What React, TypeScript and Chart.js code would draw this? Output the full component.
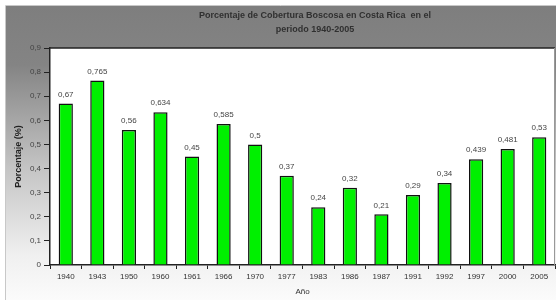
import React, { useEffect, useRef } from "react";
import { Chart, registerables } from "chart.js";

Chart.register(...registerables);

const years = ["1940", "1943", "1950", "1960", "1961", "1966", "1970", "1977", "1983", "1986", "1987", "1991", "1992", "1997", "2000", "2005"];
const coverage = [0.67, 0.765, 0.56, 0.634, 0.45, 0.585, 0.5, 0.37, 0.24, 0.32, 0.21, 0.29, 0.34, 0.439, 0.481, 0.53];
const titleLines = ["Porcentaje de Cobertura Boscosa en Costa Rica  en el", "periodo 1940-2005"];
const yTitle = "Porcentaje (%)";
const xTitle = "Año";

const FONT = "'Liberation Sans', Arial, sans-serif";

const fmt = (v: number) => String(v).replace(".", ",");

const bgPlugin = {
  id: "bgPlugin",
  beforeDraw(chart: any) {
    const { ctx, width, height, chartArea } = chart;
    ctx.save();
    ctx.fillStyle = "#ffffff";
    ctx.fillRect(0, 0, width, height);
    const g = ctx.createLinearGradient(0, 6, 0, height);
    g.addColorStop(0, "#7e7e7e");
    g.addColorStop(0.2, "#848484");
    g.addColorStop(0.55, "#c4c4c4");
    g.addColorStop(0.85, "#f0f0f0");
    g.addColorStop(1, "#fbfbfb");
    ctx.fillStyle = g;
    ctx.fillRect(6, 6, width - 6, height - 6);
    ctx.strokeStyle = "#c8c8c8";
    ctx.lineWidth = 1;
    ctx.beginPath();
    ctx.moveTo(5.5, height);
    ctx.lineTo(5.5, 5.5);
    ctx.lineTo(width, 5.5);
    ctx.stroke();
    ctx.fillStyle = "#ffffff";
    ctx.fillRect(chartArea.left, chartArea.top, chartArea.right - chartArea.left, chartArea.bottom - chartArea.top);
    // title
    ctx.fillStyle = "#303030";
    ctx.font = `bold 9px ${FONT}`;
    ctx.textAlign = "center";
    ctx.textBaseline = "middle";
    ctx.fillText(titleLines[0], 315, 16);
    ctx.fillText(titleLines[1], 315, 30);
    ctx.restore();
  },
  afterDraw(chart: any) {
    const { ctx, chartArea } = chart;
    ctx.save();
    ctx.strokeStyle = "#222";
    ctx.lineWidth = 1.5;
    ctx.beginPath();
    ctx.moveTo(chartArea.left, chartArea.top);
    ctx.lineTo(chartArea.right, chartArea.top);
    ctx.stroke();
    ctx.strokeStyle = "#999";
    ctx.lineWidth = 1;
    ctx.beginPath();
    ctx.moveTo(chartArea.right - 0.5, chartArea.top);
    ctx.lineTo(chartArea.right - 0.5, chartArea.bottom);
    ctx.stroke();
    ctx.restore();
  },
};

const labelPlugin = {
  id: "labelPlugin",
  afterDatasetsDraw(chart: any) {
    const { ctx } = chart;
    const meta = chart.getDatasetMeta(0);
    const data = chart.data.datasets[0].data as number[];
    ctx.save();
    ctx.fillStyle = "#444";
    ctx.font = `8px ${FONT}`;
    ctx.textAlign = "center";
    ctx.textBaseline = "bottom";
    meta.data.forEach((el: any, i: number) => {
      ctx.fillText(fmt(data[i]), el.x, el.y - 5);
    });
    ctx.restore();
  },
};

export default function App() {
  const ref = useRef<HTMLCanvasElement>(null);
  useEffect(() => {
    const chart = new Chart(ref.current!, {
      type: "bar",
      data: {
        labels: years,
        datasets: [
          {
            data: coverage,
            backgroundColor: "#00f000",
            borderColor: "#111",
            borderWidth: 1.5,
            barPercentage: 0.45,
            categoryPercentage: 1,
          },
        ],
      },
      options: {
        animation: false,
        responsive: false,
        maintainAspectRatio: false,
        layout: { padding: { left: 6, top: 48, right: 1, bottom: 0 } },
        plugins: { legend: { display: false }, tooltip: { enabled: false }, title: { display: false } },
        scales: {
          x: {
            afterFit: (s: any) => { s.height = 35; },
            grid: { offset: true, drawOnChartArea: false, tickLength: 4, color: "#222" },
            border: { color: "#222", width: 1.5 },
            ticks: { color: "#333", font: { family: FONT, size: 8 }, padding: 3, maxRotation: 0, autoSkip: false },
            title: { display: true, text: xTitle, color: "#333", font: { family: FONT, size: 8 }, padding: { top: 0, bottom: 3 } },
          },
          y: {
            min: 0,
            max: 0.9,
            afterFit: (s: any) => { s.width = 44; },
            grid: { drawOnChartArea: false, tickLength: 6, color: "#222" },
            border: { color: "#222", width: 1.5 },
            ticks: { stepSize: 0.1, color: "#444", font: { family: FONT, size: 8 }, padding: 3, callback: (v: any) => fmt(Math.round(Number(v) * 10) / 10) },
            title: { display: true, text: yTitle, color: "#222", font: { family: FONT, size: 9, weight: "bold" }, padding: { top: 7, bottom: 0 } },
          },
        },
      },
      plugins: [bgPlugin, labelPlugin],
    });
    return () => chart.destroy();
  }, []);
  return (
    <div style={{ position: "absolute", left: 0, top: 0, width: 556, height: 300 }}>
      <canvas ref={ref} width={556} height={300} style={{ display: "block" }} />
    </div>
  );
}
